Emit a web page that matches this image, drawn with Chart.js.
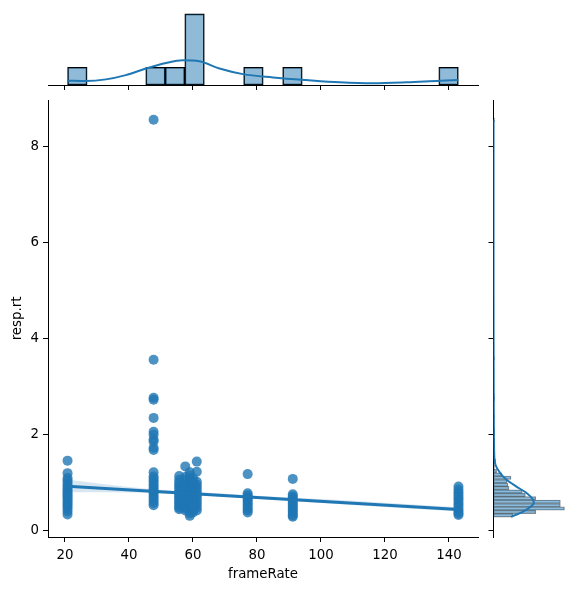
<!DOCTYPE html>
<html>
<head>
<meta charset="utf-8">
<script src="https://cdn.jsdelivr.net/npm/chart.js@4.4.1/dist/chart.umd.min.js"></script>
<style>
  body { margin: 0; background: #fff; }
  #wrap { position: relative; width: 576px; height: 590px; }
  #wrap canvas { position: absolute; left: 0; top: 0; }
</style>
</head>
<body>
<div id="wrap">
  <canvas id="mainChart" width="576" height="590"></canvas>
  <canvas id="topChart" width="576" height="590"></canvas>
  <canvas id="rightChart" width="576" height="590"></canvas>
</div>
<script>
// one frame rate per participant, resp.rt values
const frameRates = [20.8, 47.7, 55.7, 57.6, 59.0, 60.0, 61.2, 77.1, 91.2, 143];
const rt20 = [1.46, 1.2, 1.1, 1.05, 1.0, 0.95, 0.9, 0.86, 0.82, 0.78, 0.74, 0.7, 0.66, 0.62, 0.58, 0.54, 0.5, 0.46, 0.4, 0.34];
const rt48 = [8.56, 3.56, 2.77, 2.73, 2.35, 2.06, 2.0, 1.9, 1.86, 1.73, 1.68, 1.22, 1.13, 1.08, 1.03, 0.98, 0.93, 0.88, 0.83, 0.78, 0.73, 0.68, 0.63, 0.58, 0.53];
const rt56 = [1.14, 1.06, 1.0, 0.95, 0.9, 0.85, 0.8, 0.76, 0.72, 0.68, 0.64, 0.6, 0.56, 0.52, 0.48, 0.45];
const rt58 = [1.34, 1.12, 1.05, 0.98, 0.92, 0.87, 0.82, 0.77, 0.72, 0.67, 0.62, 0.57, 0.52, 0.47, 0.42];
const rt59 = [1.22, 1.15, 1.08, 1.0, 0.94, 0.88, 0.82, 0.76, 0.7, 0.64, 0.58, 0.52, 0.46, 0.41, 0.36, 0.31];
const rt60 = [1.1, 1.03, 0.96, 0.9, 0.84, 0.78, 0.72, 0.66, 0.6, 0.54, 0.48, 0.43, 0.38];
const rt61 = [1.44, 1.23, 1.02, 0.96, 0.9, 0.84, 0.78, 0.72, 0.66, 0.6, 0.54, 0.48, 0.42];
const rt77 = [1.18, 0.78, 0.74, 0.7, 0.66, 0.62, 0.58, 0.54, 0.5, 0.46, 0.42, 0.38];
const rt91 = [1.08, 0.76, 0.72, 0.68, 0.64, 0.6, 0.56, 0.52, 0.48, 0.44, 0.4, 0.36, 0.32, 0.29];
const rt143 = [0.92, 0.86, 0.8, 0.75, 0.7, 0.65, 0.6, 0.55, 0.5, 0.45, 0.4, 0.36, 0.33];
const rtByRate = [rt20, rt48, rt56, rt58, rt59, rt60, rt61, rt77, rt91, rt143];

// regression fit and its confidence band
const regX = [20.8, 143];
const regY = [0.925, 0.445];
const ciX = [20.8, 40, 60, 80, 100, 120, 143];
const ciLow = [0.8, 0.795, 0.745, 0.665, 0.58, 0.495, 0.4];
const ciHigh = [1.06, 0.91, 0.81, 0.73, 0.66, 0.585, 0.49];

// top marginal: frameRate histogram + kde
const topBins = [23.86, 48.3, 54.4, 60.5, 78.9, 91.1, 139.9];
const topCounts = [43, 43, 43, 172, 43, 43, 43];
const topKdeX = [20.8, 26.5, 32.8, 39, 45.3, 51.6, 56.8, 62, 68.3, 75.6, 85, 95.4, 105.9, 116.3, 126.8, 137.2, 143];
const topKdeY = [10.3, 9.6, 13.6, 23.9, 39.9, 53.3, 59.7, 57.3, 39.9, 26.3, 18.4, 11.9, 6.4, 4.1, 6.4, 10.3, 11.9];

// right marginal: resp.rt histogram + kde
const rtBins = [0.3205, 0.3915, 0.4625, 0.5335, 0.6045, 0.6755, 0.7465, 0.8175, 0.8885, 0.9595, 1.0305, 1.1015, 1.1725, 1.2435, 1.3145, 1.3855, 1.4565,
  1.669, 1.740, 1.882, 2.024, 2.095, 2.378, 2.736, 2.806, 3.5865, 8.5575];
const rtCounts = [19, 41, 69, 65, 65, 41, 31, 28, 15, 14, 13, 17, 8, 3, 1, 1, 2,
  1, 1, 1, 1, 1, 1, 1, 1, 1, 1];
const rtKdeY = [0.29, 0.30, 0.40, 0.51, 0.58, 0.65, 0.79, 0.92, 1.06, 1.21, 1.42, 1.7, 2.0, 2.5, 3.0, 4.0, 5.0, 6.0, 7.0, 8.56];
const rtKdeCount = [17, 18.1, 28.7, 36.7, 39.2, 38.3, 31.9, 22.3, 12.7, 6.2, 1.4, 0.6, 0.4, 0.25, 0.2, 0.1, 0.05, 0.05, 0.05, 0.05];

const xTicks = [20, 40, 60, 80, 100, 120, 140];
const yTicks = [0, 2, 4, 6, 8];
const xRange = [14.69, 149.1];
const yRange = [-0.13, 8.97];

const blue = '#1f77b4';
const font = { family: 'DejaVu Sans', size: 13.33 };
Chart.defaults.font.family = 'DejaVu Sans';
Chart.defaults.color = '#000';

const tickGrid = { drawOnChartArea: false, drawTicks: true, tickLength: 5, tickColor: '#000', tickWidth: 1, offset: false };
const spine = { display: true, color: '#000', width: 1 };
const noPlugins = { legend: { display: false }, tooltip: { enabled: false } };

// main joint plot
const points = [];
frameRates.forEach((fr, i) => {
  rtByRate[i].forEach(v => points.push({ x: fr, y: v }));
});

new Chart(document.getElementById('mainChart'), {
  type: 'scatter',
  data: {
    datasets: [
      {
        type: 'line',
        data: regX.map((x, i) => ({ x: x, y: regY[i] })),
        borderColor: blue, borderWidth: 3, pointRadius: 0, order: 0
      },
      {
        type: 'line',
        data: ciX.map((x, i) => ({ x: x, y: ciHigh[i] })),
        borderWidth: 0, borderColor: 'rgba(0,0,0,0)', pointRadius: 0,
        cubicInterpolationMode: 'monotone',
        fill: '+1', backgroundColor: 'rgba(31,119,180,0.18)', order: 1
      },
      {
        type: 'line',
        data: ciX.map((x, i) => ({ x: x, y: ciLow[i] })),
        borderWidth: 0, borderColor: 'rgba(0,0,0,0)', pointRadius: 0,
        cubicInterpolationMode: 'monotone', fill: false, order: 1
      },
      {
        data: points,
        backgroundColor: 'rgba(31,119,180,0.8)', borderWidth: 0,
        pointRadius: 5, pointHoverRadius: 5, order: 2
      }
    ]
  },
  options: {
    responsive: false,
    animation: false,
    devicePixelRatio: 1,
    layout: { padding: { left: 0, right: 98, top: 100, bottom: 0 } },
    plugins: noPlugins,
    scales: {
      x: {
        type: 'linear', min: xRange[0], max: xRange[1],
        afterBuildTicks: s => { s.ticks = xTicks.map(v => ({ value: v })); },
        afterFit: s => { s.height = 53; },
        grid: tickGrid, border: spine,
        ticks: { color: '#000', font: font, padding: 6, maxRotation: 0, autoSkip: false },
        title: { display: true, text: 'frameRate', color: '#000', font: font, padding: { top: 0, bottom: 7 } }
      },
      y: {
        type: 'linear', min: yRange[0], max: yRange[1],
        afterBuildTicks: s => { s.ticks = yTicks.map(v => ({ value: v })); },
        afterFit: s => { s.width = 48; },
        grid: tickGrid, border: spine,
        ticks: { color: '#000', font: font, padding: 4, autoSkip: false },
        title: { display: true, text: 'resp.rt', color: '#000', font: font, padding: { top: 10, bottom: 0 } }
      }
    }
  }
});

// top marginal
new Chart(document.getElementById('topChart'), {
  type: 'bar',
  data: {
    datasets: [
      {
        type: 'line',
        data: topKdeX.map((x, i) => ({ x: x, y: topKdeY[i] })),
        borderColor: blue, borderWidth: 2, pointRadius: 0,
        cubicInterpolationMode: 'monotone', order: 0
      },
      {
        type: 'bar',
        data: topBins.map((x, i) => ({ x: x, y: topCounts[i] })),
        backgroundColor: 'rgba(31,119,180,0.5)', borderColor: '#000', borderWidth: 1,
        borderSkipped: false, barPercentage: 1, categoryPercentage: 1, order: 1
      }
    ]
  },
  options: {
    responsive: false,
    animation: false,
    devicePixelRatio: 1,
    layout: { padding: { left: 48, right: 98, top: 10.4, bottom: 495 } },
    plugins: noPlugins,
    scales: {
      x: {
        type: 'linear', min: xRange[0], max: xRange[1], offset: false,
        afterBuildTicks: s => { s.ticks = xTicks.map(v => ({ value: v })); },
        afterFit: s => { s.height = 10; },
        grid: tickGrid, border: spine,
        ticks: { display: false }
      },
      y: { type: 'linear', display: false, min: 0, max: 180.6 }
    }
  }
});

// right marginal
new Chart(document.getElementById('rightChart'), {
  type: 'bar',
  data: {
    datasets: [
      {
        type: 'line',
        data: rtKdeY.map((y, i) => ({ x: rtKdeCount[i], y: y })),
        borderColor: blue, borderWidth: 2, pointRadius: 0,
        indexAxis: 'y', cubicInterpolationMode: 'monotone', order: 0
      },
      {
        type: 'bar',
        data: rtBins.map((y, i) => ({ x: rtCounts[i], y: y })),
        backgroundColor: 'rgba(31,119,180,0.5)', borderColor: 'rgba(0,0,0,0.45)', borderWidth: 0.6,
        borderSkipped: false, barPercentage: 1, categoryPercentage: 1, order: 1
      }
    ]
  },
  options: {
    indexAxis: 'y',
    responsive: false,
    animation: false,
    devicePixelRatio: 1,
    layout: { padding: { left: 483.5, right: 8, top: 100, bottom: 53 } },
    plugins: noPlugins,
    scales: {
      x: { type: 'linear', display: false, min: 0, max: 72.45 },
      y: {
        type: 'linear', min: yRange[0], max: yRange[1], offset: false,
        afterBuildTicks: s => { s.ticks = yTicks.map(v => ({ value: v })); },
        afterFit: s => { s.width = 10; },
        grid: tickGrid, border: spine,
        ticks: { display: false }
      }
    }
  }
});
</script>
</body>
</html>
